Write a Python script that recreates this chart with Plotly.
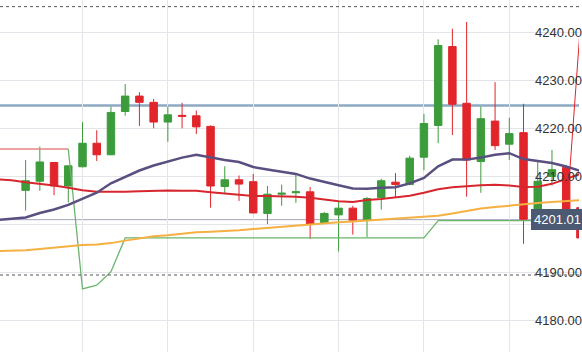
import plotly.graph_objects as go

# ---------------- data ----------------
idx = list(range(40))
opens  = [4207.1, 4209.0, 4212.9, 4208.0, 4212.0, 4216.9, 4214.5, 4223.5, 4226.7, 4225.4,
          4221.3, 4222.7, 4222.6, 4220.4, 4207.9, 4209.3, 4208.9, 4202.3, 4206.3, 4206.6,
          4206.8, 4200.2, 4202.0, 4203.4, 4200.9, 4205.6, 4208.8, 4208.3, 4214.0, 4220.6,
          4237.0, 4225.2, 4213.1, 4221.5, 4216.7, 4219.1, 4201.5, 4210.0, 4211.9, 4203.5]
highs  = [4213.4, 4216.2, 4213.0, 4212.3, 4221.3, 4219.6, 4224.5, 4229.2, 4227.5, 4226.1,
          4224.5, 4225.3, 4223.7, 4220.6, 4212.1, 4210.2, 4210.5, 4208.0, 4208.3, 4210.6,
          4207.8, 4202.6, 4204.9, 4203.9, 4205.7, 4209.5, 4210.7, 4214.3, 4223.0, 4238.5,
          4240.7, 4242.1, 4224.5, 4229.6, 4222.2, 4225.1, 4213.0, 4215.5, 4212.1, 4204.0]
lows   = [4202.9, 4207.0, 4206.1, 4204.6, 4211.9, 4213.2, 4214.4, 4222.6, 4220.5, 4220.0,
          4217.2, 4220.0, 4218.8, 4203.5, 4206.3, 4204.9, 4202.3, 4200.1, 4203.9, 4204.5,
          4197.0, 4200.2, 4194.4, 4197.9, 4197.4, 4203.1, 4205.6, 4208.2, 4211.3, 4216.9,
          4218.6, 4205.8, 4206.6, 4215.5, 4213.4, 4196.0, 4200.5, 4208.1, 4201.5, 4196.5]
closes = [4209.1, 4213.0, 4208.0, 4212.2, 4216.9, 4214.5, 4223.3, 4226.7, 4225.4, 4221.3,
          4222.8, 4222.5, 4220.3, 4208.0, 4209.3, 4208.4, 4202.4, 4206.3, 4206.5, 4206.8,
          4200.0, 4202.3, 4203.4, 4200.9, 4205.4, 4209.1, 4208.3, 4213.8, 4221.0, 4237.2,
          4225.0, 4213.4, 4222.0, 4216.4, 4218.9, 4201.1, 4209.0, 4211.4, 4202.3, 4197.2]

ma_idx = list(range(-2, 40))
ma_fast = [4200.92, 4201.17, 4201.47, 4202.40, 4203.12, 4204.08, 4205.38, 4206.61, 4208.56, 4209.90,
           4211.23, 4212.26, 4213.08, 4213.91, 4214.52, 4213.91, 4213.39, 4212.98, 4211.95, 4211.44,
           4211.03, 4210.52, 4209.55, 4208.77, 4208.15, 4207.49, 4207.43, 4207.64, 4207.74, 4208.56,
           4209.69, 4212.10, 4213.49, 4213.49, 4213.91, 4214.52, 4214.83, 4213.60, 4213.12, 4212.78,
           4212.06, 4211.13]
ma_mid = [4209.39, 4209.18, 4208.77, 4208.46, 4208.09, 4207.64, 4207.13, 4206.82, 4206.76, 4206.82,
          4206.92, 4207.02, 4207.08, 4207.02, 4207.02, 4206.71, 4206.41, 4206.20, 4205.93, 4205.93,
          4205.89, 4205.79, 4205.58, 4205.17, 4204.86, 4204.70, 4205.07, 4205.28, 4205.58, 4205.99,
          4206.61, 4207.33, 4207.74, 4207.99, 4208.15, 4208.26, 4208.11, 4207.78, 4207.84, 4208.46,
          4209.49, 4210.52]
ma_slow = [4194.45, 4194.53, 4194.63, 4194.90, 4195.21, 4195.52, 4195.72, 4195.86, 4196.13, 4196.65,
           4197.16, 4197.57, 4197.78, 4198.08, 4198.39, 4198.49, 4198.60, 4198.80, 4199.07, 4199.32,
           4199.52, 4199.73, 4199.97, 4200.20, 4200.45, 4200.65, 4200.86, 4201.06, 4201.17, 4201.37,
           4201.58, 4201.82, 4202.30, 4202.81, 4203.32, 4203.63, 4203.94, 4204.15, 4204.45, 4204.66,
           4204.86, 4205.07]

stop_red_x = [-2, 3]
stop_red_y = [4215.7, 4215.7]
stop_green_x = [3, 4, 5, 6, 7, 28, 29, 39]
stop_green_y = [4215.7, 4186.6, 4187.4, 4190.2, 4197.2, 4197.2, 4200.8, 4200.8]

spike_x = [38.27, 39.6]
spike_y = [4211.85, 4266.0]

resistance_level = 4224.76
last_price = 4201.01
last_price_text = "4201.01"
dashed_levels = [4245.3, 4189.5]

y_ticks = [4180, 4190, 4200, 4210, 4220, 4230, 4240]
# the 4200 label sits under the last-price tag in the reference, so it is left blank
y_tick_text = ["4180.00", "4190.00", "", "4210.00", "4220.00", "4230.00", "4240.00"]
x_grid = [4, 10, 16, 22, 28, 34]

GREEN = "#3c9c3c"
RED = "#e1252b"

fig = go.Figure()

fig.add_trace(go.Candlestick(
    x=idx, open=opens, high=highs, low=lows, close=closes,
    increasing=dict(line=dict(color=GREEN, width=1), fillcolor=GREEN),
    decreasing=dict(line=dict(color=RED, width=1), fillcolor=RED),
    whiskerwidth=0, showlegend=False, hoverinfo="skip"))

fig.add_trace(go.Scatter(x=stop_red_x, y=stop_red_y, mode="lines",
                         line=dict(color="#e98585", width=1.5), showlegend=False))
fig.add_trace(go.Scatter(x=stop_green_x, y=stop_green_y, mode="lines",
                         line=dict(color="#6cb46c", width=1.3), showlegend=False))
fig.add_trace(go.Scatter(x=ma_idx, y=ma_slow, mode="lines",
                         line=dict(color="#f5b041", width=2), showlegend=False))
fig.add_trace(go.Scatter(x=ma_idx, y=ma_mid, mode="lines",
                         line=dict(color="#d8262e", width=2), showlegend=False))
fig.add_trace(go.Scatter(x=ma_idx, y=ma_fast, mode="lines",
                         line=dict(color="#5a4f80", width=2.5), showlegend=False))
fig.add_trace(go.Scatter(x=spike_x, y=spike_y, mode="lines",
                         line=dict(color=RED, width=1), showlegend=False))

fig.add_hline(y=resistance_level, line=dict(color="#8ea9c3", width=2.5), layer="below")
fig.add_hline(y=last_price, line=dict(color="#a6a3ba", width=1), layer="below")
for lv in dashed_levels:
    fig.add_hline(y=lv, line=dict(color="#555555", width=1, dash="3px,3px"))

fig.add_annotation(x=534 / 582, xref="paper", xanchor="left", y=last_price, yref="y",
                   text=last_price_text, showarrow=False,
                   font=dict(family="Liberation Sans, Arial", size=13, color="white"),
                   bgcolor="#4b5a72", bordercolor="#4b5a72", borderwidth=1, borderpad=2)

fig.update_layout(
    width=582, height=352,
    margin=dict(l=0, r=0, t=0, b=0),
    paper_bgcolor="white", plot_bgcolor="white",
    boxgap=0.25,
    xaxis=dict(range=[-1.8, 38.9], showticklabels=False, tickvals=x_grid,
               showgrid=True, gridcolor="#e3e5ea", gridwidth=1, zeroline=False,
               rangeslider=dict(visible=False), fixedrange=True),
    yaxis=dict(range=[4173.49, 4246.68], side="right", tickvals=y_ticks, ticktext=y_tick_text,
               ticklabelposition="inside", ticklabelstandoff=-6,
               tickfont=dict(family="Liberation Sans, Arial", size=13, color="#333333"),
               showgrid=True, gridcolor="#e3e5ea", gridwidth=1, zeroline=False),
    font=dict(family="Liberation Sans, Arial"),
)

fig.write_html("out.html")
